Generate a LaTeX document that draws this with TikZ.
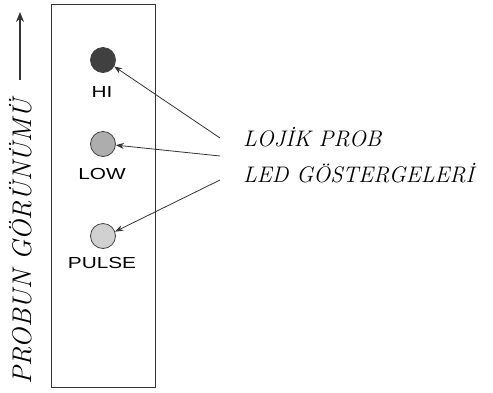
\documentclass[tikz,border=0pt]{standalone}
\usepackage{fontspec}
\newfontfamily\lblfont{Liberation Sans}
\usetikzlibrary{arrows.meta}
\begin{document}
\begin{tikzpicture}[x=1pt,y=-1pt,
  led/.style={circle,draw=black!75,line width=0.8pt,minimum size=25pt,inner sep=0pt},
  ledlbl/.style={font=\lblfont\fontsize{16}{16}\selectfont,inner sep=0pt,xscale=1.3},
  captext/.style={font=\itshape\fontsize{22.5}{26}\selectfont,inner sep=0pt,anchor=west},
  pointer/.style={draw=black!80,line width=0.8pt,-{Stealth[length=8pt,width=6pt]}}]
\useasboundingbox (0,0) rectangle (493,392);
\node[draw=black!80,line width=1pt,minimum width=104pt,minimum height=383pt,inner sep=0pt] (probe) at (103,195.5) {};
\node[led,fill=black!75] (hi) at (103,60) {};
\node[ledlbl] (hil) at (102,92) {HI};
\node[led,fill=black!32] (low) at (103,144) {};
\node[ledlbl] (lowl) at (102,174) {LOW};
\node[led,fill=black!18] (pulse) at (103,236) {};
\node[ledlbl] (pulsel) at (102,263) {PULSE};
\node[captext] (t1) at (243,137) {LOJİK PROB};
\node[captext] (t2) at (243,173) {LED GÖSTERGELERİ};
\coordinate (a1) at (220,138);
\coordinate (a2) at (220,156);
\coordinate (a3) at (220,180);
\draw[pointer] (a1) -- (hi.-30);
\draw[pointer] (a2) -- (low.-5);
\draw[pointer] (a3) -- (pulse.20);
\node[font=\itshape\fontsize{27}{30}\selectfont,rotate=90,inner sep=0pt] (view) at (21,242) {PROBUN GÖRÜNÜMÜ};
\coordinate (v1) at (20,80);
\coordinate (v2) at (20,12);
\draw[pointer,line width=1.2pt,-{Stealth[length=10pt,width=8pt]}] (v1) -- (v2);
\end{tikzpicture}
\end{document}
